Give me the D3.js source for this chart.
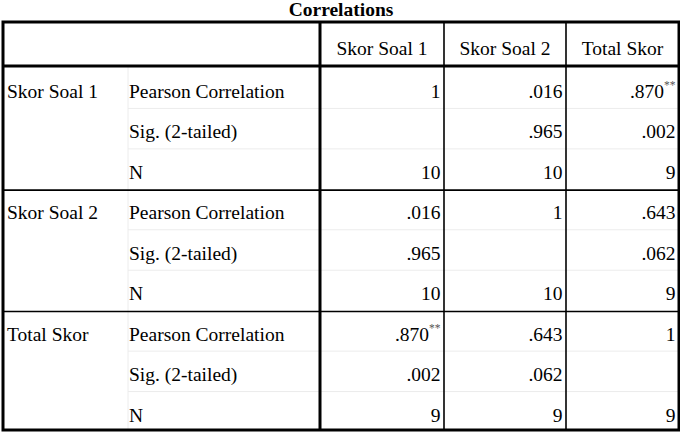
<!DOCTYPE html>
<html>
<head>
<meta charset="utf-8">
<script src="https://cdn.jsdelivr.net/npm/d3@7"></script>
<style>
  html, body { margin: 0; padding: 0; background: #fff; }
  svg { display: block; }
</style>
</head>
<body>
<svg id="chart" width="680" height="432"></svg>
<script>
const title = "Correlations";
const variables = ["Skor Soal 1", "Skor Soal 2", "Total Skor"];
const statistics = ["Pearson Correlation", "Sig. (2-tailed)", "N"];
const pearson = [
  [1, 0.016, 0.870],
  [0.016, 1, 0.643],
  [0.870, 0.643, 1]
];
const sigValues = [
  [null, 0.965, 0.002],
  [0.965, null, 0.062],
  [0.002, 0.062, null]
];
const nValues = [
  [10, 10, 9],
  [10, 10, 9],
  [9, 9, 9]
];

(function draw() {
const FONT = "'Liberation Serif', Tinos, 'Times New Roman', Times, 'DejaVu Serif', serif";
const svg = d3.select("#chart").attr("font-family", FONT);
const tTop = 22, headerBottom = 66, tBottom = 430;
const tLeft = 3, tRight = 679;

const colEdges = [tLeft, 128, 320, 444, 566, tRight];

const rows = [];
variables.forEach((v, gi) => {
  statistics.forEach((s, si) => {
    rows.push({ gi, si, variable: v, stat: s });
  });
});
const y = d3.scaleBand().domain(d3.range(rows.length)).range([headerBottom + 2, tBottom + 2]).padding(0);

const fmt3 = d3.format(".3f");
function fmtVal(v) {
  if (v === null || v === undefined) return "";
  if (v === 1) return "1";
  if (Number.isInteger(v)) return String(v);
  return fmt3(v).replace(/^0/, "");
}

svg.append("text")
  .attr("x", 341).attr("y", 16)
  .attr("text-anchor", "middle")
  .attr("font-family", FONT)
  .attr("font-size", 19.5)
  .attr("font-weight", "bold")
  .text(title);

const faint = "#ececec";
rows.forEach((r, i) => {
  if (i > 0 && r.si > 0) {
    svg.append("line")
      .attr("x1", colEdges[1]).attr("x2", tRight)
      .attr("y1", y(i)).attr("y2", y(i))
      .attr("stroke", faint).attr("stroke-width", 1);
  }
});
svg.append("line")
  .attr("x1", colEdges[1]).attr("x2", colEdges[1])
  .attr("y1", headerBottom).attr("y2", tBottom)
  .attr("stroke", faint).attr("stroke-width", 1);

[3, 6].forEach(i => {
  svg.append("line")
    .attr("x1", tLeft).attr("x2", tRight)
    .attr("y1", y(i) + 0.8).attr("y2", y(i) + 0.8)
    .attr("stroke", "#000").attr("stroke-width", 1.6);
});

[3, 4].forEach(c => {
  svg.append("line")
    .attr("x1", colEdges[c]).attr("x2", colEdges[c])
    .attr("y1", tTop).attr("y2", tBottom)
    .attr("stroke", "#000").attr("stroke-width", 1.6);
});

const thick = 3;
svg.append("rect")
  .attr("x", tLeft).attr("y", tTop)
  .attr("width", tRight - tLeft).attr("height", tBottom - tTop)
  .attr("fill", "none").attr("stroke", "#000").attr("stroke-width", thick);
svg.append("line")
  .attr("x1", tLeft).attr("x2", tRight)
  .attr("y1", headerBottom).attr("y2", headerBottom)
  .attr("stroke", "#000").attr("stroke-width", thick);
svg.append("line")
  .attr("x1", colEdges[2]).attr("x2", colEdges[2])
  .attr("y1", tTop).attr("y2", tBottom)
  .attr("stroke", "#000").attr("stroke-width", thick);

const fs = 19.5;

variables.forEach((v, c) => {
  svg.append("text")
    .attr("x", (colEdges[c + 2] + colEdges[c + 3]) / 2)
    .attr("y", 55)
    .attr("text-anchor", "middle")
    .attr("font-family", FONT)
    .attr("font-size", fs)
    .text(v);
});

rows.forEach((r, i) => {
  const base = y(i) + 30;
  if (r.si === 0) {
    svg.append("text").attr("x", 7).attr("y", base)
      .attr("font-family", FONT)
      .attr("font-size", fs).text(r.variable);
  }
  svg.append("text").attr("x", 129).attr("y", base)
    .attr("font-family", FONT)
    .attr("font-size", fs).text(r.stat);

  variables.forEach((v, c) => {
    let val, star = false;
    if (r.si === 0) {
      val = pearson[r.gi][c];
      const s = sigValues[r.gi][c];
      star = s !== null && s < 0.01;
    } else if (r.si === 1) {
      val = sigValues[r.gi][c];
    } else {
      val = nValues[r.gi][c];
    }
    const t = svg.append("text")
      .attr("x", colEdges[c + 3] - 3.5)
      .attr("y", base)
      .attr("text-anchor", "end")
      .attr("font-family", FONT)
      .attr("font-size", fs);
    t.append("tspan").text(fmtVal(val));
    if (star) {
      t.append("tspan").attr("dy", -9).attr("font-size", 11.5).attr("fill", "#555").text("**");
    }
  });
});
})();
</script>
</body>
</html>
